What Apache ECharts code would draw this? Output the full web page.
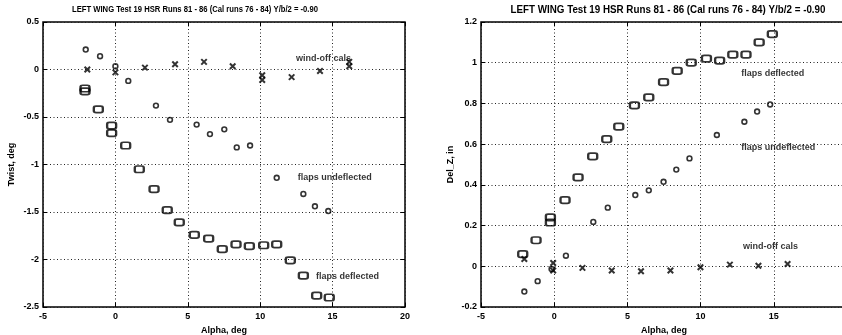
<!DOCTYPE html>
<html>
<head>
<meta charset="utf-8">
<script src="https://cdn.jsdelivr.net/npm/echarts@6/dist/echarts.min.js"></script>
<style>
html, body { margin: 0; padding: 0; background: #fff; }
#c { width: 842px; height: 335px; }
</style>
</head>
<body>
<div id="c"></div>
<script>
// Panel title (same on both panels)
const panelTitle = 'LEFT WING Test 19 HSR Runs 81 - 86 (Cal runs 76 - 84) Y/b/2 = -0.90';

// Axis tick values
const alphaTicks = [-5, 0, 5, 10, 15, 20];
const twistTicks = [-2.5, -2, -1.5, -1, -0.5, 0, 0.5];
const delzTicks = [-0.2, 0, 0.2, 0.4, 0.6, 0.8, 1, 1.2];

// Twist panel: flaps deflected
const twistDefAlpha = [-2.1, -2.1, -1.18, -0.26, -0.26, 0.71, 1.65, 2.67, 3.58, 4.41, 5.45, 6.44, 7.38, 8.33, 9.25, 10.24, 11.14, 12.08, 12.98, 13.9, 14.77];
const twistDef = [-0.2, -0.23, -0.42, -0.59, -0.67, -0.8, -1.05, -1.26, -1.48, -1.61, -1.74, -1.78, -1.89, -1.84, -1.86, -1.85, -1.84, -2.01, -2.17, -2.38, -2.4];
// Twist panel: flaps undeflected
const twistUndefAlpha = [-2.05, -1.06, 0, 0.89, 2.8, 3.77, 5.61, 6.53, 7.52, 8.38, 9.3, 11.14, 12.98, 13.78, 14.7];
const twistUndef = [0.21, 0.14, 0.035, -0.12, -0.38, -0.53, -0.58, -0.68, -0.63, -0.82, -0.8, -1.14, -1.31, -1.44, -1.49];
// Twist panel: wind-off cals
const twistCalAlpha = [-1.94, 0, 2.04, 4.12, 6.12, 8.1, 10.14, 10.14, 12.17, 14.13, 16.15, 16.15];
const twistCal = [0, -0.03, 0.02, 0.055, 0.08, 0.035, -0.06, -0.11, -0.08, -0.015, 0.08, 0.035];

// Del_Z panel: flaps deflected
const delzDefAlpha = [-2.15, -1.24, -0.26, -0.26, 0.74, 1.63, 2.63, 3.59, 4.41, 5.48, 6.46, 7.47, 8.4, 9.36, 10.4, 11.3, 12.2, 13.1, 14.0, 14.9];
const delzDef = [0.06, 0.128, 0.24, 0.215, 0.325, 0.437, 0.54, 0.625, 0.686, 0.79, 0.83, 0.905, 0.96, 1.0, 1.02, 1.01, 1.04, 1.04, 1.1, 1.14];
// Del_Z panel: flaps undeflected
const delzUndefAlpha = [-2.04, -1.13, -0.18, 0.8, 2.67, 3.66, 5.54, 6.46, 7.47, 8.34, 9.24, 11.11, 12.99, 13.86, 14.75];
const delzUndef = [-0.124, -0.073, -0.013, 0.052, 0.218, 0.288, 0.35, 0.373, 0.415, 0.475, 0.53, 0.645, 0.71, 0.76, 0.795];
// Del_Z panel: wind-off cals
const delzCalAlpha = [-2.04, -0.07, -0.07, 1.93, 3.93, 5.93, 7.94, 9.99, 12.0, 13.95, 15.94];
const delzCal = [0.036, 0.016, -0.021, -0.008, -0.021, -0.024, -0.021, -0.005, 0.008, 0.003, 0.011];

// Curve annotations [alpha, value, text]
const twistNotes = [[12.47, 0.12, 'wind-off cals'], [12.6, -1.14, 'flaps undeflected'], [13.85, -2.18, 'flaps deflected']];
const delzNotes = [[12.77, 0.946, 'flaps deflected'], [12.77, 0.583, 'flaps undeflected'], [12.89, 0.098, 'wind-off cals']];

const FONT = '"Liberation Sans", Arial, Helvetica, sans-serif';
const pair = (xs, ys) => xs.map((x, i) => [x, ys[i]]);

function axisPair(kind, ticks, gridIndex, name, nameGap) {
  const main = {
    type: 'value', gridIndex,
    min: ticks[0], max: ticks[ticks.length - 1], interval: ticks[1] - ticks[0],
    name, nameLocation: 'middle', nameGap,
    nameTextStyle: { fontFamily: FONT, fontWeight: 'bold', fontSize: 9, color: '#000' },
    axisLine: { show: false, onZero: false },
    axisTick: { show: true, inside: true, length: 4, lineStyle: { color: '#000', width: 1 } },
    axisLabel: { fontFamily: FONT, fontWeight: 'bold', fontSize: 9, color: '#000', margin: kind === 'x' ? 5 : 4 },
    splitLine: { show: true, lineStyle: { color: '#222', type: [1, 2.5], width: 1 } }
  };
  if (kind === 'y') main.nameRotate = 90;
  const mirror = {
    type: 'value', gridIndex,
    min: ticks[0], max: ticks[ticks.length - 1], interval: ticks[1] - ticks[0],
    position: kind === 'x' ? 'top' : 'right',
    axisLine: { show: false, onZero: false },
    axisTick: { show: true, inside: true, length: 4, lineStyle: { color: '#000', width: 1 } },
    axisLabel: { show: false },
    splitLine: { show: false }
  };
  return [main, mirror];
}

const squareStyle = { symbol: 'roundRect', symbolSize: [9, 6.5], itemStyle: { color: 'rgba(0,0,0,0)', borderColor: '#000', borderWidth: 2 } };
const circleStyle = { symbol: 'circle', symbolSize: 4.8, itemStyle: { color: 'rgba(0,0,0,0)', borderColor: '#000', borderWidth: 1.6 } };
const crossStyle = { symbol: 'path://M0,0L10,10M10,0L0,10', symbolSize: 5.5, itemStyle: { color: 'rgba(0,0,0,0)', borderColor: '#000', borderWidth: 2 } };

function scatter(xIdx, yIdx, data, style) {
  return Object.assign({ type: 'scatter', xAxisIndex: xIdx, yAxisIndex: yIdx, data, silent: true, animation: false }, style);
}
function notes(xIdx, yIdx, list) {
  return {
    type: 'scatter', xAxisIndex: xIdx, yAxisIndex: yIdx, symbolSize: 0, silent: true, animation: false,
    data: list.map(n => ({ value: [n[0], n[1]], name: n[2] })),
    label: { show: true, position: 'right', distance: 0, formatter: '{b}', fontFamily: FONT, fontWeight: 'bold', fontSize: 9, color: '#000' }
  };
}

// Condensed title text: measure then squeeze horizontally to fit the span
function titleGraphic(cx, width, fontSize) {
  const ctx = document.createElement('canvas').getContext('2d');
  ctx.font = 'bold ' + fontSize + 'px ' + FONT;
  const w = ctx.measureText(panelTitle).width;
  return {
    type: 'text', x: cx, y: 10, scaleX: width / w, silent: true,
    style: { text: panelTitle, fontFamily: FONT, fontWeight: 'bold', fontSize, fill: '#000', textAlign: 'center', textVerticalAlign: 'middle' }
  };
}

const [lx, lx2] = axisPair('x', alphaTicks, 0, 'Alpha, deg', 18);
const [ly, ly2] = axisPair('y', twistTicks, 0, 'Twist, deg', 27);
const [rx, rx2] = axisPair('x', alphaTicks, 1, 'Alpha, deg', 18);
const [ry, ry2] = axisPair('y', delzTicks, 1, 'Del_Z, in', 26);

const chart = echarts.init(document.getElementById('c'), null, { renderer: 'canvas' });
chart.setOption({
  animation: false,
  backgroundColor: '#fff',
  grid: [
    { left: 43, top: 22, width: 362, height: 285, show: true, borderColor: '#000', borderWidth: 1.5, backgroundColor: 'transparent', outerBoundsMode: 'none', containLabel: false },
    { left: 481, top: 22, width: 366, height: 285, show: true, borderColor: '#000', borderWidth: 1.5, backgroundColor: 'transparent', outerBoundsMode: 'none', containLabel: false }
  ],
  xAxis: [lx, lx2, rx, rx2],
  yAxis: [ly, ly2, ry, ry2],
  graphic: [titleGraphic(195, 246, 9), titleGraphic(668, 315, 10.5)],
  series: [
    scatter(0, 0, pair(twistDefAlpha, twistDef), squareStyle),
    scatter(0, 0, pair(twistUndefAlpha, twistUndef), circleStyle),
    scatter(0, 0, pair(twistCalAlpha, twistCal), crossStyle),
    notes(0, 0, twistNotes),
    scatter(2, 2, pair(delzDefAlpha, delzDef), squareStyle),
    scatter(2, 2, pair(delzUndefAlpha, delzUndef), circleStyle),
    scatter(2, 2, pair(delzCalAlpha, delzCal), crossStyle),
    notes(2, 2, delzNotes)
  ]
});
</script>
</body>
</html>
